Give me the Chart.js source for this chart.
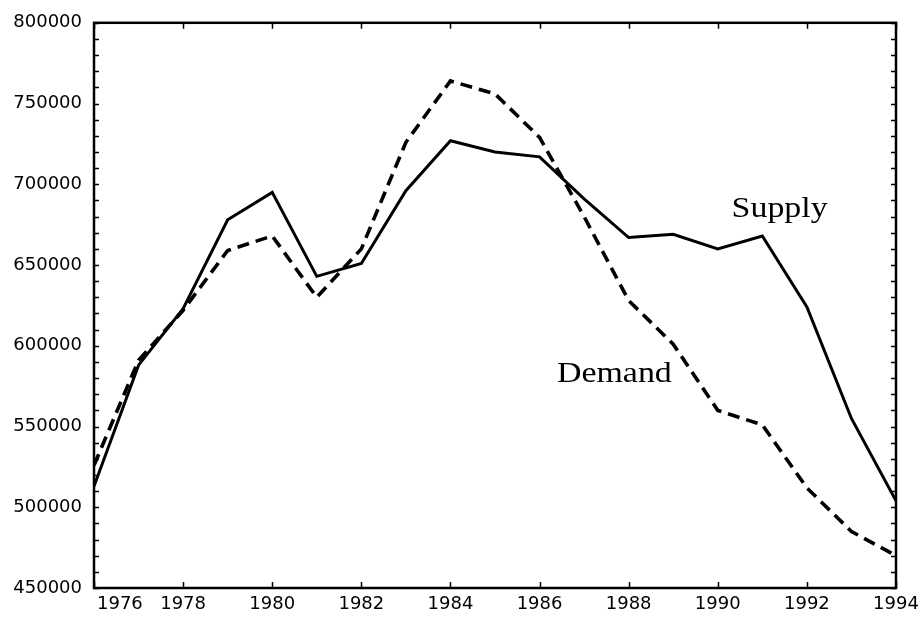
<!DOCTYPE html>
<html>
<head>
<meta charset="utf-8">
<script src="https://cdn.jsdelivr.net/npm/chart.js@4"></script>
<style>
  html, body { margin: 0; background: #fff; }
  canvas { display: block; }
</style>
</head>
<body>
<canvas id="chart" width="921" height="619"></canvas>
<script>
'use strict';

const years  = [1976, 1977, 1978, 1979, 1980, 1981, 1982, 1983, 1984, 1985,
                1986, 1987, 1988, 1989, 1990, 1991, 1992, 1993, 1994];
const supply = [513000, 588000, 623000, 678000, 695000, 643000, 651000, 696000, 727000, 720000,
                717000, 691000, 667000, 669000, 660000, 668000, 624000, 555000, 504000];
const demand = [526000, 591000, 622000, 659000, 668000, 630000, 660000, 726000, 764000, 756000,
                729000, 680000, 628000, 601000, 560000, 551000, 512000, 485000, 470000];

const yearTicks  = [1976, 1978, 1980, 1982, 1984, 1986, 1988, 1990, 1992, 1994];
const seriesNames = ['Supply', 'Demand'];

const axisFont  = '18px "DejaVu Sans"';
const serifFont = '30px "Liberation Serif"';

// box, inward ticks on all four sides, year labels and the in-plot series names
const frame = {
    id: 'frame',
    afterDraw(chart) {
        const { ctx, chartArea: a, scales: { x, y } } = chart;
        ctx.save();
        ctx.strokeStyle = '#000';
        ctx.fillStyle = '#000';

        ctx.lineWidth = 1.5;
        ctx.beginPath();
        for (let v = y.min; v <= y.max; v += 10000) {
            const py = Math.round(y.getPixelForValue(v)) + 0.5;
            ctx.moveTo(a.left, py);  ctx.lineTo(a.left + 5, py);
            ctx.moveTo(a.right, py); ctx.lineTo(a.right - 5, py);
        }
        for (const t of yearTicks) {
            const px = Math.round(x.getPixelForValue(t)) + 0.5;
            ctx.moveTo(px, a.bottom); ctx.lineTo(px, a.bottom - 6);
            ctx.moveTo(px, a.top);    ctx.lineTo(px, a.top + 6);
        }
        ctx.stroke();

        ctx.lineWidth = 2.5;
        ctx.strokeRect(a.left, a.top, a.right - a.left, a.bottom - a.top);

        ctx.font = axisFont;
        ctx.textBaseline = 'top';
        yearTicks.forEach((t, i) => {
            const px = x.getPixelForValue(t);
            if (i === 0) { ctx.textAlign = 'left'; ctx.fillText(String(t), px + 3, a.bottom + 7); }
            else         { ctx.textAlign = 'center'; ctx.fillText(String(t), px, a.bottom + 7); }
        });

        ctx.font = serifFont;
        ctx.textAlign = 'left';
        ctx.textBaseline = 'alphabetic';
        const tags = [
            [seriesNames[0], 1990.31, 680000],
            [seriesNames[1], 1986.39, 577500]
        ];
        for (const [txt, xv, yv] of tags) {
            ctx.save();
            ctx.translate(x.getPixelForValue(xv), y.getPixelForValue(yv));
            ctx.scale(1.13, 1);
            ctx.fillText(txt, 0, 0);
            ctx.restore();
        }
        ctx.restore();
    }
};

new Chart(document.getElementById('chart').getContext('2d'), {
    type: 'line',
    data: {
        datasets: [
            { label: seriesNames[0],
              data: years.map((yr, i) => ({ x: yr, y: supply[i] })),
              borderColor: '#000', borderWidth: 3,
              pointRadius: 0, tension: 0 },
            { label: seriesNames[1],
              data: years.map((yr, i) => ({ x: yr, y: demand[i] })),
              borderColor: '#000', borderWidth: 3.6, borderDash: [12, 7],
              pointRadius: 0, tension: 0 }
        ]
    },
    options: {
        responsive: false,
        animation: false,
        devicePixelRatio: 1,
        layout: { padding: { top: 20, right: 25, left: 0, bottom: 0 } },
        plugins: { legend: { display: false }, tooltip: { enabled: false } },
        scales: {
            x: { type: 'linear', min: 1976, max: 1994,
                 grid: { display: false }, border: { display: false },
                 ticks: { display: false },
                 afterFit: (s) => { s.height = 31; } },
            y: { min: 450000, max: 800000,
                 grid: { display: false, drawTicks: false }, border: { display: false },
                 ticks: { stepSize: 50000, padding: 12, color: '#000',
                          font: { family: 'DejaVu Sans', size: 18 },
                          callback: (v) => String(v) },
                 afterFit: (s) => { s.width = 94; } }
        }
    },
    plugins: [frame]
});
</script>
</body>
</html>
